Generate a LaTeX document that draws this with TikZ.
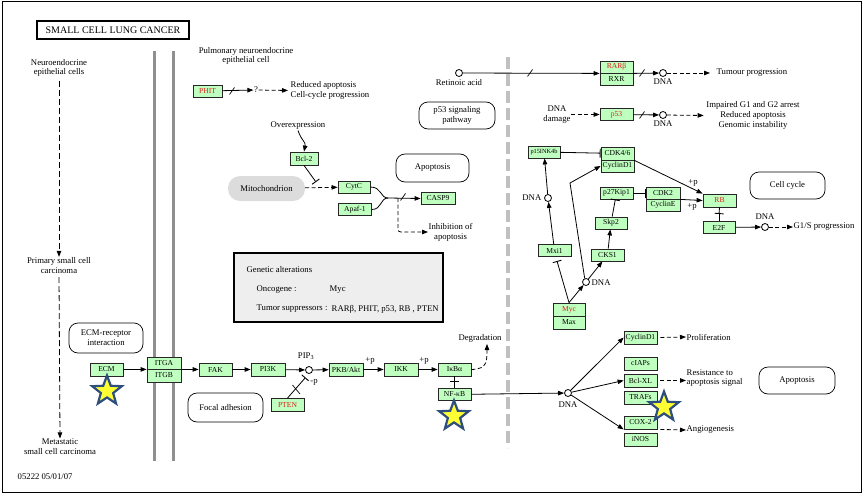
\documentclass[tikz,border=0pt]{standalone}
\usepackage{fontspec}
\setmainfont{Liberation Serif}
\usetikzlibrary{arrows.meta,shapes.geometric}
\definecolor{genefill}{HTML}{BFFFBF}
\definecolor{genered}{HTML}{E0201B}
\definecolor{starline}{HTML}{2E4E7E}
\definecolor{staryellow}{HTML}{FFFF33}
\definecolor{wallgray}{HTML}{8F8F8F}
\definecolor{dashgray}{HTML}{C0C0C0}
\definecolor{mitogray}{HTML}{DCDCDC}
\definecolor{legendgray}{HTML}{EEEEEE}
\begin{document}
\begin{tikzpicture}[x=1pt,y=-1pt,
  font=\fontsize{8.7}{9.8}\selectfont,
  >={Triangle[length=6pt,width=4.5pt]},
  gene/.style={draw=black!85, fill=genefill, line width=0.8pt, minimum width=33pt,
    minimum height=12pt, inner sep=0pt, font=\fontsize{7.6}{8}\selectfont},
  pathbox/.style={draw, rounded corners=9pt, line width=0.7pt, align=center, inner sep=0pt},
  lbl/.style={inner sep=0.5pt, align=center},
  cpd/.style={circle, draw, fill=white, minimum size=7pt, inner sep=0pt, line width=0.8pt},
  link/.style={line width=0.8pt},
  act/.style={link,->},
  dact/.style={link,->,dash pattern=on 4pt off 2.5pt},
  longdash/.style={link,->,dash pattern=on 6pt off 3pt},
  inh/.style={link,-{Bar[width=9pt,line width=0.9pt]}},
  starsign/.style={star, star points=5, star point ratio=2.4, fill=staryellow,
    draw=starline, line width=2.2pt, minimum size=31pt, inner sep=0pt},
  slash/.pic={\draw[line width=0.7pt] (-2.5,3.5) -- (2.5,-3.5);}
]
\useasboundingbox (0,0) rectangle (864,495);
\draw[line width=1pt] (2,2) rectangle (861,492);

% walls
\draw[line width=3pt, wallgray] (154,51) -- (154,461);
\draw[line width=3pt, wallgray] (173,51) -- (173,461);
\draw[line width=4pt, dashgray, dash pattern=on 12pt off 5pt] (508,57) -- (508,448);

% title
\node[draw, line width=1.5pt, minimum width=152pt, minimum height=18pt, inner sep=0pt,
  font=\fontsize{10}{11}\selectfont] (title) at (113,30) {SMALL CELL LUNG CANCER};

% left column
\node[lbl] (neuro) at (59,68) {Neuroendocrine\\epithelial cells};
\node[lbl] (primary) at (59,265.5) {Primary small cell\\carcinoma};
\node[lbl] (metast) at (60,447) {Metastatic\\small cell carcinoma};
\draw[longdash, shorten <=3pt] (neuro.south) -- (primary.north);
\draw[longdash, shorten <=3pt] (primary.south) -- (metast.north);
\node[lbl, anchor=west] (date) at (17,477) {05222 05/01/07};

% PHIT
\node[lbl] (pulm) at (246,56) {Pulmonary neuroendocrine\\epithelial cell};
\node[gene, text=genered, minimum width=29pt] (phit) at (207.5,91) {PHIT};
\node[lbl] (qmark) at (256,90) {?};
\node[lbl, anchor=west, align=left] (reduced) at (290,90.5) {Reduced apoptosis\\Cell-cycle progression};
\draw[act] (phit) -- (qmark);
\pic at (232,91) {slash};
\draw[dact, shorten >=2pt] (qmark) -- (reduced.west);

% apoptosis module
\node[lbl] (overexp) at (298,126) {Overexpression};
\node[gene, minimum width=28pt, minimum height=13pt] (bcl2) at (304,158.5) {Bcl-2};
\draw[act] (overexp.south) .. controls (301,140) and (306,142) .. (bcl2.north);
\node[fill=mitogray, rounded corners=12pt, minimum width=77pt, minimum height=25pt, inner sep=0pt] (mito) at (266.5,188.5) {Mitochondrion};
\node[gene, minimum width=32pt] (cytc) at (354,187) {CytC};
\node[gene] (apaf) at (355,209.5) {Apaf-1};
\node[gene, minimum width=34pt] (casp9) at (438,198.5) {CASP9};
\draw[dact] (mito) -- (cytc);
\coordinate (bclbar) at (316,182);
\draw[inh] (bcl2.south) -- (bclbar);
\coordinate (merge) at (388,198);
\draw[link] (cytc.east) .. controls (382,187) and (380,198) .. (merge);
\draw[link] (apaf.east) .. controls (382,209.5) and (380,198) .. (merge);
\draw[act] (merge) -- (casp9.west);
\pic at (403,197) {slash};
\coordinate (split) at (398,198);
\node[lbl, anchor=west] (inhib) at (428,232) {Inhibition of\\apoptosis};
\draw[dact] (split) -- (398,226) .. controls (398,232) .. (404,232) -- (inhib.west);
\node[pathbox, minimum width=73pt, minimum height=28pt] (apop1) at (432.5,168) {Apoptosis};
\node[pathbox, minimum width=76pt, minimum height=27pt] (p53path) at (457,115.5) {p53 signaling\\pathway};

% RAR / p53
\node[cpd] (retin) at (459,73) {};
\node[lbl] (retlbl) at (459,83) {Retinoic acid};
\node[gene, text=genered] (rar) at (616.5,67) {RARβ};
\node[gene] (rxr) at (616.5,79) {RXR};
\draw[act] (retin) -- (rar.south west);
\pic at (530,73) {slash};
\node[cpd] (dnaA) at (663,73) {};
\node[lbl] (dnaAl) at (663,82) {DNA};
\draw[act] (rar.south east) -- (dnaA);
\pic at (642,73) {slash};
\node[lbl, anchor=west] (tumour) at (716,73) {Tumour progression};
\draw[dact, shorten >=6pt] (dnaA) -- (tumour.west);

\node[lbl] (dnadmg) at (557,114.5) {DNA\\damage};
\node[gene, text=genered] (p53) at (616.5,114.5) {p53};
\draw[dact] (dnadmg) -- (p53);
\node[cpd] (dnaB) at (663,115) {};
\node[lbl] (dnaBl) at (663,124) {DNA};
\draw[act] (p53) -- (dnaB);
\pic at (642,115) {slash};
\node[lbl] (impaired) at (753,115.5) {Impaired G1 and G2 arrest\\Reduced apoptosis\\Genomic instability};
\draw[dact, shorten >=2pt] (dnaB) -- (impaired.west);

% cell cycle
\node[gene, minimum width=32pt, font=\fontsize{6.3}{7}\selectfont] (p15) at (544,152) {p15INK4b};
\node[gene, minimum height=13pt] (cdk46) at (617.5,153.5) {CDK4/6};
\node[gene] (cycd1) at (617.5,166) {CyclinD1};
\draw[inh] (p15) -- (cdk46);
\node[cpd] (dnaC) at (548,198) {};
\node[lbl, anchor=east] (dnaCl) at (542,198) {DNA};
\draw[act] (dnaC) -- (p15);
\node[gene] (mxi1) at (554.5,250.5) {Mxi1};
\draw[act] (mxi1) -- (dnaC);
\node[gene, text=genered, minimum width=32pt, minimum height=13pt] (myc) at (569,309.5) {Myc};
\node[gene, minimum width=32pt, minimum height=13pt] (max) at (569,322.5) {Max};
\coordinate (mxibar) at (557,261);
\draw[inh] (myc.north) -- (mxibar);
\node[cpd] (dnaD) at (586,282) {};
\node[lbl, anchor=west] (dnaDl) at (591,283) {DNA};
\draw[act] (myc.north) -- (dnaD);
\draw[act] (dnaD.110) -- (570,183) -- (cycd1.west);
\node[gene] (cks1) at (607.5,255) {CKS1};
\draw[act] (dnaD) -- (cks1);
\node[gene, minimum width=32pt] (skp2) at (611,223) {Skp2};
\draw[act] (cks1) -- (skp2);
\node[gene] (p27) at (616.5,193) {p27Kip1};
\draw[inh] (skp2) -- (p27);
\node[gene, minimum width=34pt] (cdk2) at (663,193) {CDK2};
\node[gene, minimum width=34pt] (cyce) at (663,205) {CyclinE};
\draw[inh] (p27) -- (cdk2);
\node[gene, text=genered, minimum height=13pt] (rb) at (719.5,200.5) {RB};
\draw[act] (cdk46.south east) -- (rb.north west);
\node[lbl] (p1) at (693,183) {+p};
\draw[act] (cdk2.south east) -- (rb.west);
\node[lbl] (p2) at (692,207) {+p};
\node[gene, minimum width=32pt] (e2f) at (719,227.5) {E2F};
\coordinate (rbbar) at (719,214);
\draw[inh] (rb.south) -- (rbbar);
\draw[link] (rbbar) -- (e2f.north);
\node[cpd] (dnaE) at (765,227) {};
\node[lbl] (dnaEl) at (765,217) {DNA};
\draw[act] (e2f) -- (dnaE);
\node[lbl, anchor=west] (g1s) at (793,227) {G1/S progression};
\draw[dact] (dnaE) -- (g1s.west);
\node[pathbox, minimum width=75pt, minimum height=27pt] (cellcycle) at (787.5,185.5) {Cell cycle};

% genetic alterations
\node[draw, line width=1.5pt, fill=legendgray, minimum width=209pt, minimum height=69pt, inner sep=0pt] (legend) at (338.5,287.5) {};
\node[lbl, anchor=west] (galt) at (246,270) {Genetic alterations};
\node[lbl, anchor=west] (onco) at (256,290) {Oncogene :};
\node[lbl, anchor=west] (oncoval) at (329,290) {Myc};
\node[lbl, anchor=west] (tsup) at (256,309) {Tumor suppressors :};
\node[lbl, anchor=west] (tsupval) at (331,309) {RARβ, PHIT, p53, RB , PTEN};

% bottom pathway
\node[pathbox, minimum width=74pt, minimum height=30pt] (ecmrec) at (106,338) {ECM-receptor\\interaction};
\node[gene, minimum height=13pt] (ecm) at (106.5,369.5) {ECM};
\node[gene, minimum width=34pt] (itga) at (164,363) {ITGA};
\node[gene, minimum width=34pt, minimum height=13pt] (itgb) at (164,375.5) {ITGB};
\draw[act] (ecm) -- (itga.south west);
\node[gene, minimum height=13pt] (fak) at (215.5,369.5) {FAK};
\draw[act] (itga.south east) -- (fak);
\node[gene, minimum width=34pt, minimum height=13pt] (pi3k) at (268,369.5) {PI3K};
\draw[act] (fak) -- (pi3k);
\node[cpd] (pip3) at (309,370) {};
\node[lbl] (pip3l) at (306,356) {PIP\textsubscript{3}};
\draw[act] (pi3k) -- (pip3);
\node[gene, minimum width=34pt, minimum height=13pt] (pkb) at (346,369.5) {PKB/Akt};
\draw[act] (pip3) -- (pkb);
\node[gene, minimum width=34pt, minimum height=13pt] (ikk) at (401,369.5) {IKK};
\draw[act] (pkb) -- (ikk);
\node[lbl] (p3) at (370,361) {+p};
\node[gene, minimum height=13pt] (ikba) at (454.5,369.5) {IκBα};
\draw[act] (ikk) -- (ikba);
\node[lbl] (p4) at (424,361) {+p};
\node[gene, text=genered, minimum height=13pt] (pten) at (287.5,405) {PTEN};
\coordinate (ptenbar) at (305.5,377.5);
\draw[inh] (pten.north) -- (ptenbar);
\draw[line width=0.7pt] (292.5,385) -- (300,394);
\node[lbl] (mp) at (314,382) {-p};
\node[pathbox, minimum width=75pt, minimum height=29pt] (focal) at (225.5,407.5) {Focal adhesion};

\node[lbl] (degr) at (480,338) {Degradation};
\coordinate (degtip) at (487,344);
\draw[dact] (ikba.east) .. controls (487,369) and (487,362) .. (degtip);
\node[gene, minimum height=12pt] (nfkb) at (454.5,394.5) {NF-κB};
\coordinate (ikbar) at (454.5,382);
\draw[inh] (ikba.south) -- (ikbar);
\draw[link] (ikbar) -- (nfkb.north);
\node[cpd] (dnaF) at (568,393) {};
\node[lbl] (dnaFl) at (568,405) {DNA};
\draw[act] (nfkb) -- (dnaF);

\node[gene, minimum height=13pt] (cycd1b) at (640.5,337.5) {CyclinD1};
\node[gene, minimum height=13pt] (ciaps) at (640.5,363.5) {cIAPs};
\node[gene, minimum height=13pt] (bclxl) at (640.5,380.5) {Bcl-XL};
\node[gene, minimum height=13pt] (trafs) at (640.5,397.5) {TRAFs};
\node[gene, minimum height=13pt] (cox2) at (640.5,422.5) {COX-2};
\node[gene, minimum height=13pt] (inos) at (640.5,439.5) {iNOS};
\draw[act] (dnaF) -- (cycd1b.west);
\draw[act] (dnaF) -- (bclxl.west);
\draw[act] (dnaF) -- (cox2.south west);
\node[lbl, anchor=west] (prolif) at (686,337) {Proliferation};
\draw[dact, shorten <=3pt] (cycd1b.east) -- (prolif.west);
\node[lbl, anchor=west, align=left] (resist) at (686,378) {Resistance to\\apoptosis signal};
\draw[dact, shorten <=3pt] (bclxl.east) -- (resist.west |- bclxl.east);
\node[lbl, anchor=west] (angio) at (686,430) {Angiogenesis};
\draw[dact, shorten <=3pt] (cox2.south east) -- (angio.west);
\node[pathbox, minimum width=76pt, minimum height=27pt] (apop2) at (797,380.5) {Apoptosis};

% stars
\node[starsign] (star1) at (107,391) {};
\node[starsign] (star2) at (454,416) {};
\node[starsign] (star3) at (664,407) {};
\end{tikzpicture}
\end{document}
